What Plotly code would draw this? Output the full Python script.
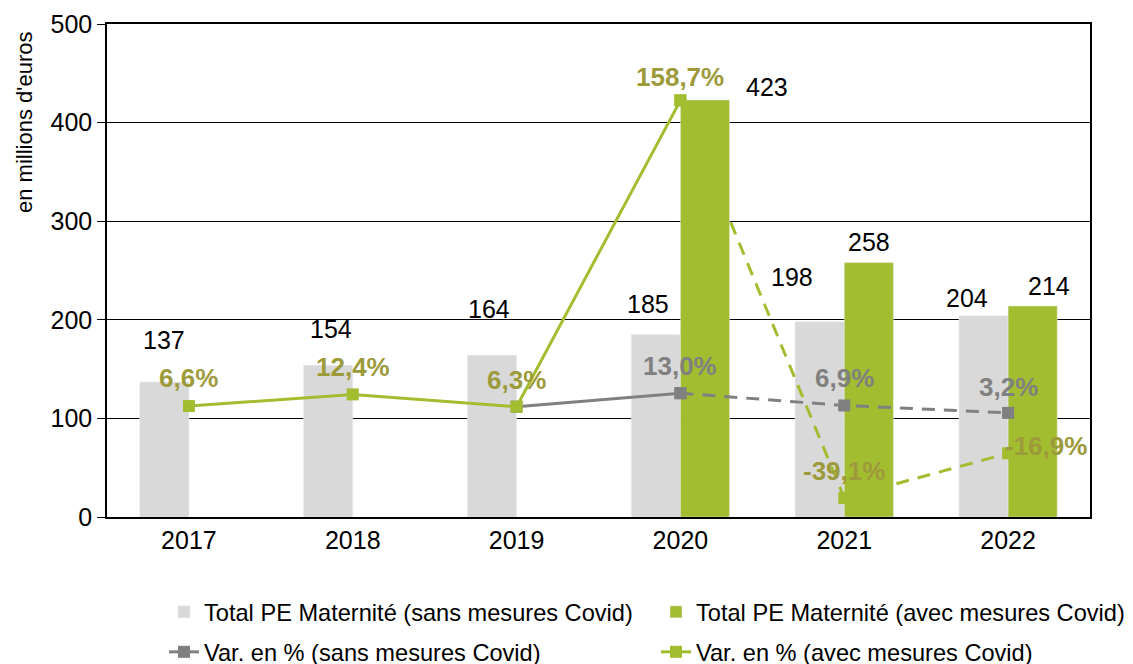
import plotly.graph_objects as go

years = ["2017", "2018", "2019", "2020", "2021", "2022"]
total_sans = [137, 154, 164, 185, 198, 204]
total_avec = [None, None, None, 423, 258, 214]
var_sans = [None, None, 6.3, 13.0, 6.9, 3.2]
var_avec = [6.6, 12.4, 6.3, 158.7, -39.1, -16.9]
y_ticks = [0, 100, 200, 300, 400, 500]

name_bar_sans = "Total PE Maternité (sans mesures Covid)"
name_bar_avec = "Total PE Maternité (avec mesures Covid)"
name_var_sans = "Var. en % (sans mesures Covid)"
name_var_avec = "Var. en % (avec mesures Covid)"

# label placement offsets (pixels)
sans_lbl_dx = [0, 3, -3, -8, -28, -17]
sans_lbl_dy = [42, 36, 46, 31, 45, 18]
avec_lbl_dx = [0, 0, 0, 62, 0, 16]
avec_lbl_dy = [0, 0, 0, 13, 21, 20]
pct_avec_dx = [0, 0, 0, 0, 0, 38]
pct_avec_dy = [28, 27, 27, 23, 27, 7]
pct_sans_dx = [0, 0, 0, 0, 0, 0]
pct_sans_dy = [0, 0, 0, 27, 27, 26]

GREY_BAR = "#d9d9d9"
GREEN = "#a3bd31"
GREY_LINE = "#808080"
OLIVE = "#9d9a3b"
FONT = "Liberation Sans, Arial, sans-serif"

# page is rendered with an 8px body margin; plot area is at screen 107..1090 x 24..517
PW, PH = 983, 493
xpos = list(range(len(years)))
BAR_W = 0.3
BAR_W_PX = BAR_W * PW / 6

def fmt(v):
    return f"{v:.1f}%".replace(".", ",")

fig = go.Figure()
fig.add_trace(go.Bar(x=xpos, y=total_sans, name=name_bar_sans, marker_color=GREY_BAR,
                     width=BAR_W, offset=-BAR_W, legend="legend", yaxis="y"))
fig.add_trace(go.Bar(x=xpos, y=total_avec, name=name_bar_avec, marker_color=GREEN,
                     width=BAR_W, offset=0, legend="legend2", yaxis="y"))

def seg(xs, ys, lo, hi):
    idx = [i for i in range(lo, hi + 1) if ys[i] is not None]
    return [xs[i] for i in idx], [ys[i] for i in idx]

# grey line
sx, sy = seg(xpos, var_sans, 0, 3)
fig.add_trace(go.Scatter(x=sx, y=sy, mode="lines+markers", name=name_var_sans, yaxis="y2",
                         line=dict(color=GREY_LINE, width=3),
                         marker=dict(symbol="square", size=12, color=GREY_LINE),
                         legend="legend3"))
sx, sy = seg(xpos, var_sans, 3, 5)
fig.add_trace(go.Scatter(x=sx, y=sy, mode="lines+markers", showlegend=False, yaxis="y2",
                         line=dict(color=GREY_LINE, width=3, dash="13px,9px"),
                         marker=dict(symbol="square", size=12, color=GREY_LINE)))
# green line
sx, sy = seg(xpos, var_avec, 0, 3)
fig.add_trace(go.Scatter(x=sx, y=sy, mode="lines+markers", name=name_var_avec, yaxis="y2",
                         line=dict(color=GREEN, width=3),
                         marker=dict(symbol="square", size=12, color=GREEN),
                         legend="legend4"))
sx, sy = seg(xpos, var_avec, 3, 5)
fig.add_trace(go.Scatter(x=sx, y=sy, mode="lines+markers", showlegend=False, yaxis="y2",
                         line=dict(color=GREEN, width=3, dash="13px,9px"),
                         marker=dict(symbol="square", size=12, color=GREEN)))

ann = []
for i in xpos:
    v = total_sans[i]
    if v is not None:
        ann.append(dict(x=i, y=v, xref="x", yref="y", text=str(v), showarrow=False,
                        xshift=-BAR_W_PX / 2 + sans_lbl_dx[i], yshift=sans_lbl_dy[i],
                        font=dict(size=25, color="black", family=FONT)))
    v = total_avec[i]
    if v is not None:
        ann.append(dict(x=i, y=v, xref="x", yref="y", text=str(v), showarrow=False,
                        xshift=BAR_W_PX / 2 + avec_lbl_dx[i], yshift=avec_lbl_dy[i],
                        font=dict(size=25, color="black", family=FONT)))
    v = var_sans[i]
    if v is not None and pct_sans_dy[i]:
        ann.append(dict(x=i, y=v, xref="x", yref="y2", text="<b>" + fmt(v) + "</b>",
                        showarrow=False, xshift=pct_sans_dx[i], yshift=pct_sans_dy[i],
                        font=dict(size=26, color=GREY_LINE, family=FONT)))
    v = var_avec[i]
    if v is not None:
        ann.append(dict(x=i, y=v, xref="x", yref="y2", text="<b>" + fmt(v) + "</b>",
                        showarrow=False, xshift=pct_avec_dx[i], yshift=pct_avec_dy[i],
                        font=dict(size=26, color=OLIVE, family=FONT)))

ann.append(dict(x=(24 - 107) / PW, y=(517 - 122) / PH, xref="paper", yref="paper",
                text="en millions d'euros", textangle=-90, showarrow=False,
                xanchor="center", yanchor="middle",
                font=dict(size=22, color="black", family=FONT)))
ann.append(dict(x=(8 - 107) / PW, y=(517 - 658) / PH, xref="paper", yref="paper",
                text="Source : CNS", showarrow=False, xanchor="left", yanchor="top",
                font=dict(size=20, color="black", family=FONT)))

def leg(xpx, ypx):
    return dict(orientation="h", x=(xpx - 107) / PW, y=(517 - ypx) / PH,
                xanchor="left", yanchor="middle", font=dict(size=23.6, family=FONT),
                itemclick=False, bgcolor="rgba(0,0,0,0)")

fig.update_layout(
    width=1133, height=664,
    margin=dict(l=99, r=51, t=16, b=155, autoexpand=False),
    paper_bgcolor="white", plot_bgcolor="white",
    font=dict(family=FONT, size=25, color="black"),
    xaxis=dict(range=[-0.5, len(years) - 0.5], tickvals=xpos, ticktext=years,
               showline=True, linecolor="black", linewidth=1.5, mirror=True,
               ticks="", tickfont=dict(size=25), showgrid=False, zeroline=False,
               automargin=False),
    yaxis=dict(range=[0, 500], tickvals=y_ticks, showline=True, linecolor="black",
               linewidth=1.5, mirror=True, ticks="outside", ticklen=8, tickcolor="black",
               showgrid=True, gridcolor="black", gridwidth=1, tickfont=dict(size=25),
               zeroline=False, automargin=False),
    yaxis2=dict(overlaying="y", range=[-48.6, 196.7], visible=False),
    legend=leg(164, 612),
    legend2=leg(656, 612),
    legend3=leg(164, 652),
    legend4=leg(656, 652),
    annotations=ann,
    showlegend=True,
)

fig.write_html("out.html")
